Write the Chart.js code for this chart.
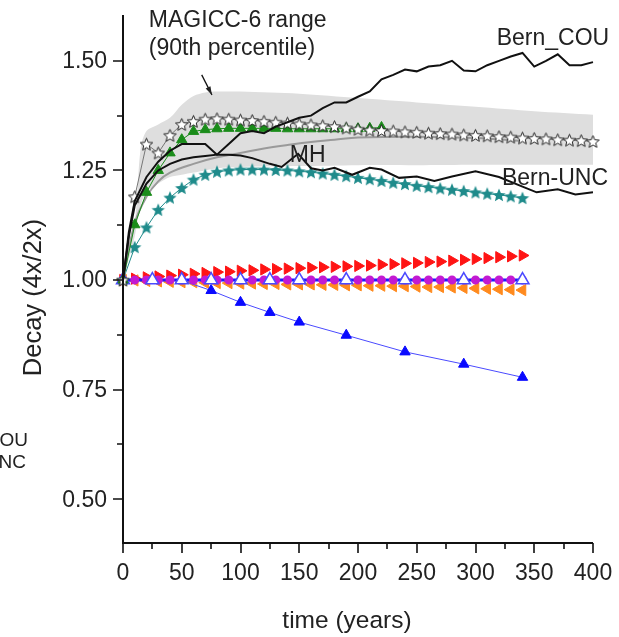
<!DOCTYPE html>
<html>
<head>
<meta charset="utf-8">
<script src="https://cdn.jsdelivr.net/npm/chart.js@4.4.1/dist/chart.umd.min.js"></script>
<style>
  html, body { margin: 0; padding: 0; background: #fff; }
  canvas { display: block; }
</style>
</head>
<body>
<canvas id="decay" width="619" height="637"></canvas>
<script>
// time axis (years) and y ticks
var X_MAJOR = [0, 50, 100, 150, 200, 250, 300, 350, 400];
var X_MINOR = [25, 75, 125, 175, 225, 275, 325, 375];
var Y_MAJOR = [0.5, 0.75, 1.0, 1.25, 1.5];
var Y_MINOR = [0.625, 0.875, 1.125, 1.375];

// MAGICC-6 90th percentile band
var bandTime  = [0, 10, 15, 20, 30, 40, 50, 60, 70, 80, 100, 150, 200, 250, 300, 350, 400];
var bandUpper = [1.0, 1.13, 1.3, 1.34, 1.355, 1.37, 1.40, 1.42, 1.428, 1.43, 1.43, 1.425, 1.415, 1.405, 1.395, 1.385, 1.377];
var bandLower = [1.0, 1.1, 1.17, 1.2, 1.22, 1.235, 1.24, 1.245, 1.25, 1.255, 1.258, 1.26, 1.262, 1.262, 1.263, 1.263, 1.263];

// open stars (MAGICC-6 median)
var magiccTime = [0, 10, 20, 30, 40, 50, 60, 70, 80, 90, 100, 110, 120, 130, 140, 150, 160, 170, 180, 190, 200,
                  210, 220, 230, 240, 250, 260, 270, 280, 290, 300, 310, 320, 330, 340, 350, 360, 370, 380, 390, 400];
var magiccVals = [1.0, 1.19, 1.31, 1.29, 1.33, 1.355, 1.362, 1.367, 1.368, 1.367, 1.365, 1.364, 1.362, 1.36, 1.358, 1.356, 1.354, 1.352, 1.35, 1.347, 1.344,
                  1.342, 1.341, 1.34, 1.338, 1.337, 1.335, 1.334, 1.333, 1.331, 1.33, 1.329, 1.327, 1.326, 1.324, 1.323, 1.322, 1.32, 1.319, 1.318, 1.316];

// green triangles
var greenTime = [0, 10, 20, 30, 40, 50, 60, 70, 80, 90, 100, 110, 120, 130, 140, 150, 160, 170, 180, 190, 200, 210, 220];
var greenVals = [1.0, 1.126, 1.2, 1.25, 1.29, 1.32, 1.339, 1.343, 1.345, 1.346, 1.346, 1.346, 1.346, 1.346, 1.345, 1.345, 1.345, 1.345, 1.345, 1.345, 1.345, 1.346, 1.348];

// teal stars
var tealTime = [0, 10, 20, 30, 40, 50, 60, 70, 80, 90, 100, 110, 120, 130, 140, 150, 160, 170, 180, 190, 200,
                210, 220, 230, 240, 250, 260, 270, 280, 290, 300, 310, 320, 330, 340];
var tealVals = [1.0, 1.075, 1.12, 1.16, 1.188, 1.21, 1.229, 1.24, 1.247, 1.25, 1.252, 1.252, 1.252, 1.251, 1.25, 1.248, 1.246, 1.243, 1.24, 1.237, 1.233,
                1.23, 1.226, 1.222, 1.219, 1.215, 1.212, 1.209, 1.206, 1.203, 1.2, 1.197, 1.194, 1.191, 1.187];

// MH (grey smooth line)
var mhTime = [0, 10, 20, 30, 40, 60, 80, 100, 120, 140, 160, 180, 200, 250, 300, 340];
var mhVals = [1.0, 1.13, 1.19, 1.225, 1.245, 1.265, 1.28, 1.29, 1.30, 1.308, 1.315, 1.32, 1.325, 1.327, 1.324, 1.317];

// Bern_COU
var couTime = [0, 5, 10, 20, 30, 40, 50, 60, 70, 80, 90, 100, 110, 120, 130, 140, 150, 160, 170, 180, 190, 200,
               210, 220, 230, 240, 250, 260, 270, 280, 290, 300, 310, 320, 330, 340, 350, 360, 370, 380, 390, 400];
var couVals = [1.0, 1.1, 1.17, 1.22, 1.25, 1.265, 1.275, 1.28, 1.283, 1.286, 1.31, 1.335, 1.34, 1.335, 1.35, 1.36, 1.37, 1.375, 1.392, 1.405, 1.405, 1.418,
               1.43, 1.458, 1.468, 1.48, 1.476, 1.487, 1.49, 1.5, 1.478, 1.476, 1.49, 1.5, 1.51, 1.518, 1.487, 1.5, 1.515, 1.49, 1.49, 1.497];

// Bern-UNC
var uncTime = [0, 5, 10, 20, 30, 40, 50, 60, 70, 80, 90, 100, 110, 125, 135, 149, 160, 170, 180, 195, 210,
               220, 235, 250, 265, 280, 300, 320, 340, 352, 370, 385, 400];
var uncVals = [1.0, 1.11, 1.18, 1.235, 1.27, 1.295, 1.31, 1.31, 1.31, 1.286, 1.286, 1.284, 1.278, 1.265, 1.258, 1.288, 1.255, 1.25, 1.256, 1.24, 1.256,
               1.252, 1.233, 1.236, 1.226, 1.236, 1.248, 1.235, 1.213, 1.2, 1.207, 1.195, 1.2];

// flat-ish series near 1.0
var flatTime = [0, 10, 20, 30, 40, 50, 60, 70, 80, 90, 100, 110, 120, 130, 140, 150, 160, 170, 180, 190, 200,
                210, 220, 230, 240, 250, 260, 270, 280, 290, 300, 310, 320, 330, 340];
var redVals = [1.0, 1.003, 1.006, 1.008, 1.01, 1.012, 1.014, 1.016, 1.018, 1.019, 1.021, 1.022, 1.024, 1.025, 1.026, 1.027, 1.028, 1.029, 1.03, 1.031, 1.032,
               1.033, 1.035, 1.036, 1.038, 1.039, 1.041, 1.042, 1.044, 1.046, 1.048, 1.05, 1.052, 1.054, 1.056];
var orangeVals = [1.0, 0.999, 0.998, 0.997, 0.996, 0.995, 0.995, 0.994, 0.993, 0.993, 0.992, 0.992, 0.991, 0.991, 0.99, 0.99, 0.99, 0.989, 0.989, 0.988, 0.988,
                  0.987, 0.987, 0.986, 0.986, 0.985, 0.984, 0.984, 0.983, 0.982, 0.981, 0.98, 0.979, 0.978, 0.977];
var purpleVals = [1.0, 1.0, 1.0, 1.0, 1.0, 1.0, 1.0, 1.0, 1.0, 1.0, 1.0, 1.0, 1.0, 1.0, 1.0, 1.0, 1.0, 1.0, 1.0, 1.0, 1.0,
                  1.0, 1.0, 1.0, 1.0, 1.0, 1.0, 1.0, 1.0, 1.0, 1.0, 1.0, 1.0, 1.0, 1.0];

// blue triangles (open and filled)
var triTime = [0, 25, 50, 75, 100, 125, 150, 190, 240, 290, 340];
var openTriVals = [1.0, 1.0, 1.0, 1.0, 1.0, 1.0, 1.0, 1.0, 1.0, 1.0, 1.0];
var blueTriVals = [1.0, 1.0, 0.999, 0.976, 0.949, 0.926, 0.904, 0.874, 0.836, 0.808, 0.778];

function pts(times, vals) {
    return times.map(function (t, i) { return {x: t, y: vals[i]}; });
}

function makeStar(size, fill, stroke) {
    var c = document.createElement('canvas');
    c.width = size + 2;
    c.height = size + 2;
    var g = c.getContext('2d');
    var cx = c.width / 2, cy = c.height / 2 + 0.6;
    var ro = size / 2, ri = ro * 0.45;
    g.beginPath();
    for (var i = 0; i < 10; i++) {
        var r = i % 2 ? ri : ro;
        var a = -Math.PI / 2 + i * Math.PI / 5;
        g.lineTo(cx + r * Math.cos(a), cy + r * Math.sin(a));
    }
    g.closePath();
    g.fillStyle = fill;
    g.fill();
    if (stroke) {
        g.lineWidth = 1;
        g.strokeStyle = stroke;
        g.stroke();
    }
    return c;
}

var openStar = makeStar(13, '#ffffff', '#222222');
var tealStar = makeStar(14, '#1f8b8b', null);

var FONT = '"Liberation Sans", Arial, sans-serif';
var TEXT = '#222222';

var axesPlugin = {
    id: 'axes',
    afterDatasetsDraw: function (chart) {
        var ctx = chart.ctx;
        var xs = chart.scales.x, ys = chart.scales.y;
        var a = chart.chartArea;
        ctx.save();
        ctx.strokeStyle = '#111';
        ctx.lineWidth = 2;
        ctx.beginPath();
        ctx.moveTo(a.left, a.top - 2);
        ctx.lineTo(a.left, a.bottom);
        ctx.lineTo(a.right, a.bottom);
        ctx.stroke();

        ctx.lineWidth = 1.6;
        ctx.beginPath();
        Y_MAJOR.forEach(function (v) {
            var p = Math.round(ys.getPixelForValue(v));
            ctx.moveTo(a.left, p); ctx.lineTo(a.left - 10, p);
        });
        Y_MINOR.forEach(function (v) {
            var p = Math.round(ys.getPixelForValue(v));
            ctx.moveTo(a.left, p); ctx.lineTo(a.left - 6, p);
        });
        X_MAJOR.forEach(function (v) {
            var p = Math.round(xs.getPixelForValue(v));
            ctx.moveTo(p, a.bottom); ctx.lineTo(p, a.bottom + 10);
        });
        X_MINOR.forEach(function (v) {
            var p = Math.round(xs.getPixelForValue(v));
            ctx.moveTo(p, a.bottom); ctx.lineTo(p, a.bottom + 6);
        });
        ctx.stroke();

        ctx.fillStyle = TEXT;
        ctx.font = '23px ' + FONT;
        ctx.textAlign = 'right';
        ctx.textBaseline = 'middle';
        Y_MAJOR.forEach(function (v) {
            ctx.fillText(v.toFixed(2), a.left - 16, ys.getPixelForValue(v) + 1);
        });
        ctx.textAlign = 'center';
        ctx.textBaseline = 'alphabetic';
        X_MAJOR.forEach(function (v) {
            ctx.fillText(String(v), xs.getPixelForValue(v), a.bottom + 37);
        });
        ctx.font = '24.5px ' + FONT;
        ctx.fillText('time (years)', (a.left + a.right) / 2 - 11, a.bottom + 85);

        ctx.save();
        ctx.font = '25.5px ' + FONT;
        ctx.translate(41, ys.getPixelForValue(0.96));
        ctx.rotate(-Math.PI / 2);
        ctx.fillText('Decay (4x/2x)', 0, 0);
        ctx.restore();

        // annotations, placed in data units
        ctx.font = '23px ' + FONT;
        ctx.textAlign = 'left';
        function label(txt, t, v) {
            ctx.fillText(txt, xs.getPixelForValue(t), ys.getPixelForValue(v));
        }
        label('MAGICC-6 range', 22, 1.577);
        label('(90th percentile)', 22, 1.514);
        label('Bern_COU', 318, 1.536);
        label('Bern-UNC', 322.5, 1.217);
        label('MH', 142, 1.269);

        var x0 = xs.getPixelForValue(67), y0 = ys.getPixelForValue(1.468);
        var x1 = xs.getPixelForValue(75.7), y1 = ys.getPixelForValue(1.422);
        var ang = Math.atan2(y1 - y0, x1 - x0);
        ctx.lineWidth = 1.3;
        ctx.beginPath();
        ctx.moveTo(x0, y0); ctx.lineTo(x1, y1);
        ctx.stroke();
        ctx.beginPath();
        ctx.moveTo(x1, y1);
        ctx.lineTo(x1 - 9 * Math.cos(ang - 0.3), y1 - 9 * Math.sin(ang - 0.3));
        ctx.lineTo(x1 - 9 * Math.cos(ang + 0.3), y1 - 9 * Math.sin(ang + 0.3));
        ctx.closePath();
        ctx.fill();

        // clipped legend fragment at the left edge
        ctx.font = '19px ' + FONT;
        ctx.textAlign = 'right';
        ctx.fillText('Bern_COU', 28, ys.getPixelForValue(0.621));
        ctx.fillText('Bern_UNC', 26, ys.getPixelForValue(0.57));
        ctx.restore();
    }
};

var datasets = [
    {label: 'Bern_COU', data: pts(couTime, couVals), borderColor: '#111', borderWidth: 2, pointRadius: 0, tension: 0},
    {label: 'Bern-UNC', data: pts(uncTime, uncVals), borderColor: '#111', borderWidth: 2, pointRadius: 0, tension: 0},
    {label: 'MAGICC-6', data: pts(magiccTime, magiccVals), borderColor: '#777', borderWidth: 1,
        pointStyle: openStar, pointRadius: 6},
    {label: 'green', data: pts(greenTime, greenVals), borderColor: '#1a8c1a', borderWidth: 1,
        pointStyle: 'triangle', pointRadius: 6, pointBackgroundColor: '#1a8c1a', pointBorderColor: '#1a8c1a'},
    {label: 'MH', data: pts(mhTime, mhVals), borderColor: '#9a9a9a', borderWidth: 2, pointRadius: 0, tension: 0.4},
    {label: 'teal', data: pts(tealTime, tealVals), borderColor: '#1f8b8b', borderWidth: 1,
        pointStyle: tealStar, pointRadius: 7},
    {label: 'open tri', data: pts(triTime, openTriVals), showLine: false,
        pointStyle: 'triangle', pointRadius: 7.5, pointBackgroundColor: '#ffffff', pointBorderColor: '#4a4aff', pointBorderWidth: 1.5},
    {label: 'purple', data: pts(flatTime, purpleVals), borderColor: '#1a1aff', borderWidth: 3,
        pointStyle: 'circle', pointRadius: 3, pointBackgroundColor: '#c21ad2', pointBorderColor: '#c21ad2'},
    {label: 'blue tri', data: pts(triTime, blueTriVals), borderColor: '#4a4aff', borderWidth: 1,
        pointStyle: 'triangle', pointRadius: 6, pointBackgroundColor: '#0a0aff', pointBorderColor: '#0a0aff'},
    {label: 'red', data: pts(flatTime, redVals), showLine: false,
        pointStyle: 'triangle', pointRotation: 90, pointRadius: 6.5, pointBackgroundColor: '#ff1414', pointBorderColor: '#ff1414'},
    {label: 'orange', data: pts(flatTime, orangeVals), showLine: false,
        pointStyle: 'triangle', pointRotation: -90, pointRadius: 6.5, pointBackgroundColor: '#ff8a1e', pointBorderColor: '#ff8a1e'},
    {label: 'band upper', data: pts(bandTime, bandUpper), borderWidth: 0, borderColor: 'rgba(0,0,0,0)',
        pointRadius: 0, fill: '+1', backgroundColor: '#dedede', tension: 0.3},
    {label: 'band lower', data: pts(bandTime, bandLower), borderWidth: 0, borderColor: 'rgba(0,0,0,0)',
        pointRadius: 0, fill: false, tension: 0.3}
];

datasets.forEach(function (d) { d.clip = false; });

new Chart(document.getElementById('decay'), {
    type: 'line',
    data: {datasets: datasets},
    options: {
        responsive: false,
        animation: false,
        events: [],
        layout: {padding: {left: 123, right: 26, top: 17, bottom: 94}},
        plugins: {legend: {display: false}, tooltip: {enabled: false}},
        scales: {
            x: {type: 'linear', min: 0, max: 400, display: false},
            y: {type: 'linear', min: 0.4, max: 1.6, display: false}
        }
    },
    plugins: [axesPlugin]
});
</script>
</body>
</html>
